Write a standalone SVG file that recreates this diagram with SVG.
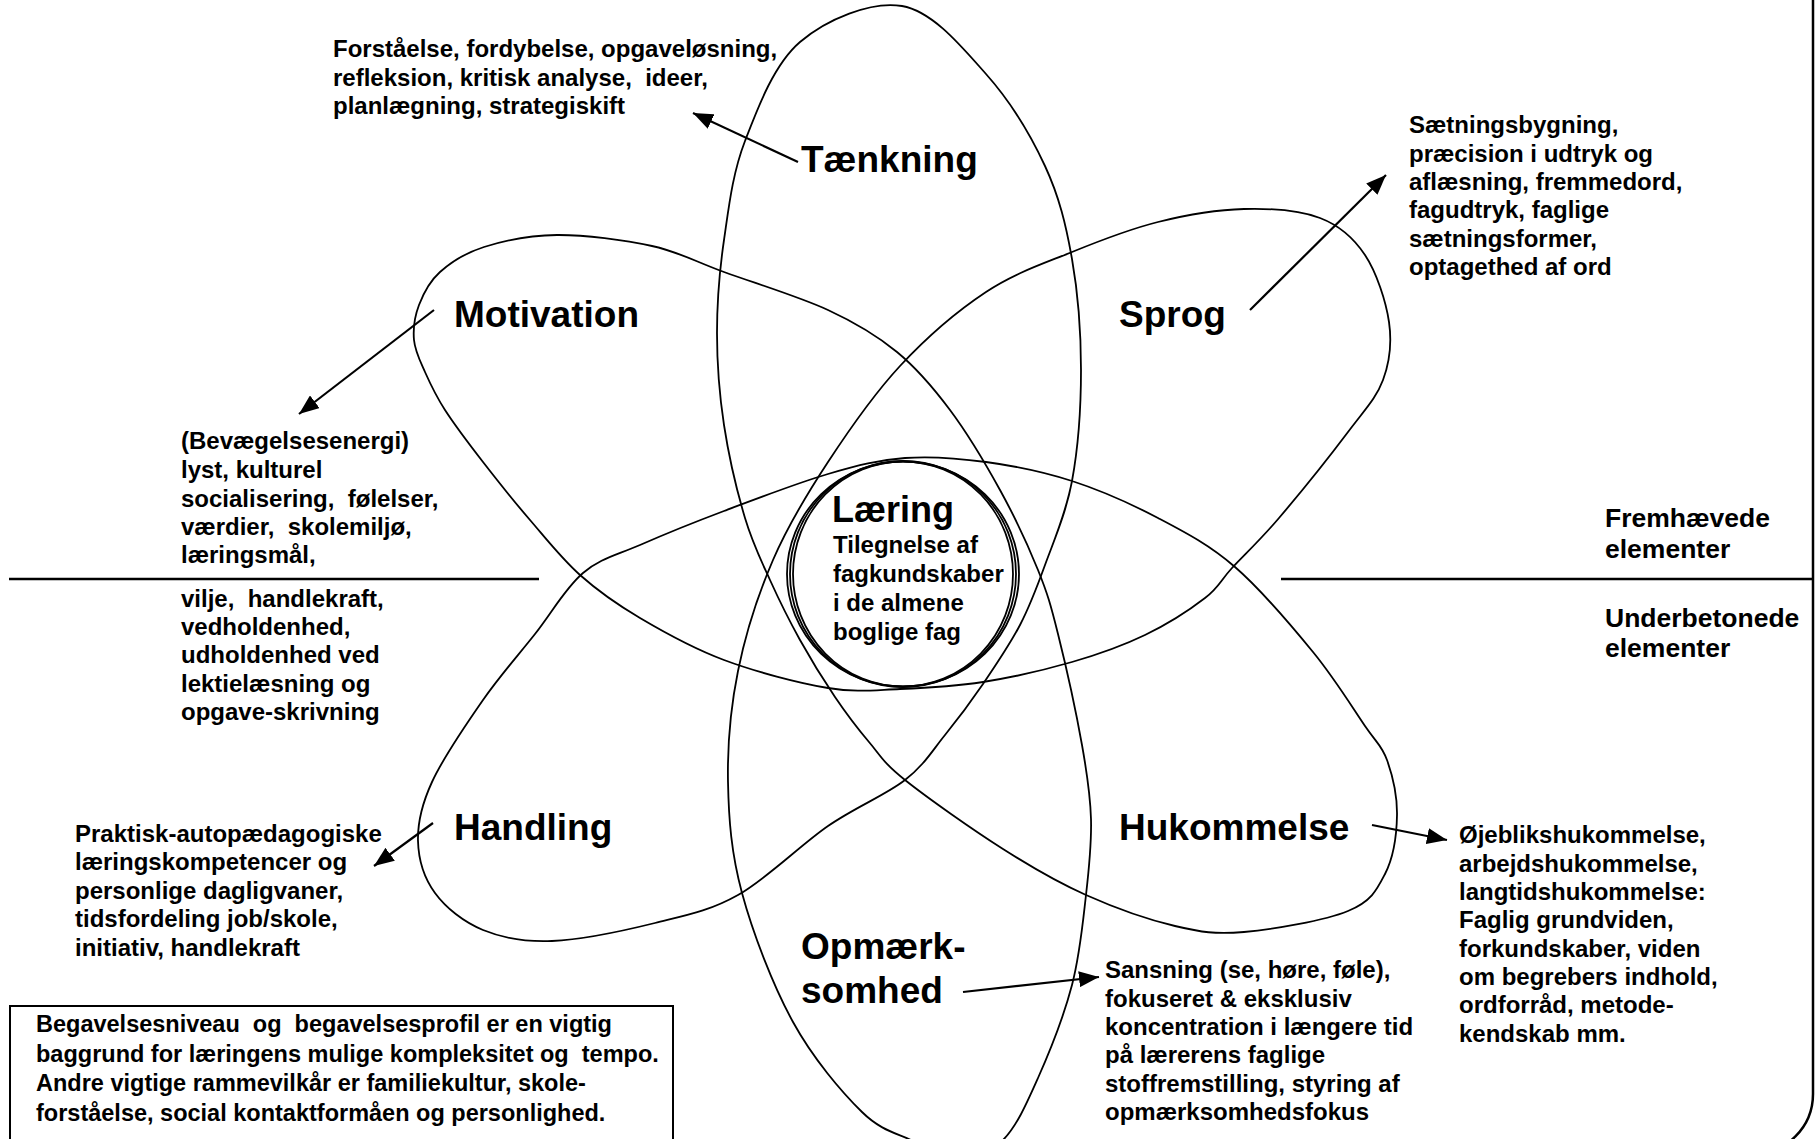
<svg xmlns="http://www.w3.org/2000/svg" width="1818" height="1139" viewBox="0 0 1818 1139">
<style>
text{font-family:"Liberation Sans",Arial,sans-serif;font-weight:bold;fill:#000;white-space:pre}
.lbl{font-size:37px}
.sm{font-size:24px}
.box{font-size:23.5px}
.leg{font-size:26.5px}
.petal{fill:none;stroke:#000;stroke-width:1.8}
.ring{fill:none;stroke:#000;stroke-width:1.8}
.rule{stroke:#000;stroke-width:2.5}
.arr{stroke:#000;stroke-width:2.2;fill:none;marker-end:url(#ah)}
</style>
<defs>
<marker id="ah" markerUnits="userSpaceOnUse" markerWidth="22" markerHeight="16" refX="20" refY="8" orient="auto">
<path d="M0,0 L20,8 L0,16 z" fill="#000"/>
</marker>
</defs>
<rect width="1818" height="1139" fill="#fff"/>
<rect x="-200" y="-200" width="2013" height="1354" rx="60" fill="none" stroke="#000" stroke-width="2.5"/>
<g id="petals">
<path class="petal" d="M 902 6 C 871 0.67 826.2 19.5 800 42 S 757.7 108 745 141 S 728.7 208 724 240 S 717 302.2 717 333 S 719.3 394.2 724 425 S 737.3 492.2 745 518 S 760.8 559.7 770 580 S 789.2 620.5 800 640 S 823.5 680 835 697 S 857.3 728.2 869 742 S 882.7 762.2 905 780 S 972.8 829.8 1003 849 S 1057.3 882.2 1086 895 S 1148.7 919.8 1175 926 S 1215.2 934.5 1244 932 S 1324.5 920.7 1348 911 S 1376.8 890 1385 874 S 1396.7 834 1397 815 S 1392.3 774.8 1387 760 S 1377.3 744 1365 726 S 1334.7 678.5 1313 652 S 1260.8 589.3 1235 567 S 1185.2 532.3 1158 518 S 1100.7 490.3 1072 481 S 1013.8 465.8 986 462 S 931.3 456 905 458 S 858.2 465.2 828 474 S 755.3 499.2 724 511 S 663.5 534.7 640 545 S 600.5 558.2 583 573 S 551.7 612.8 535 634 S 500.2 675.3 483 700 S 442.8 758.5 432 782 S 417.5 822.5 418 841 S 424.2 878.2 435 893 S 463.5 922 483 930 S 523.3 942.2 552 941 S 624 930.7 655 923 S 709.2 911.2 738 895 S 800.2 845.2 828 826 S 885.5 795.2 905 780 S 932 751 945 735 S 970.5 702.3 983 684 S 1009.7 644.8 1020 625 S 1036.3 589 1045 565 S 1066 513.5 1072 481 S 1081 407 1081 370 S 1078 293 1072 259 S 1059.3 196.8 1045 166 S 1009.8 100.7 986 74 S 933 11.33 902 6 Z"/>
<path class="petal" d="M 580 575 C 561.7 558.7 546.2 538.8 530 520 S 497.2 480.3 483 462 S 454.7 425 445 410 S 430.2 383.7 425 372 S 415 351.2 414 340 S 414.7 316.3 419 305 S 429.2 281.7 440 272 S 464.5 253.2 484 247 S 529 235.2 557 235 S 624.2 239.8 652 246 S 694.7 261.3 724 272 S 799.2 296.7 828 310 S 876.7 335.3 897 352 S 932.8 387 950 410 S 985.3 463.3 1000 490 S 1028.3 546 1038 570 S 1050.7 604.8 1058 634 S 1076.5 714.2 1082 745 S 1090.3 794 1091 819 S 1089.2 867.3 1086 895 S 1080 954.5 1072 985 S 1049.5 1052.2 1038 1078 S 1016.8 1126 1003 1140 S 969.7 1161.7 955 1162 S 930.5 1150.3 915 1142 S 882.3 1132 862 1112 S 813 1058.5 793 1022 S 752.8 933 742 893 S 728.7 819 728 782 S 730.5 708 738 671 S 758 594.8 773 560 S 806.8 494.3 828 462 S 873.7 394.3 900 366 S 957.3 311 986 292 S 1043.3 263.7 1072 252 S 1129.3 229.2 1158 222 S 1217 209.7 1244 209 S 1299.8 210.3 1320 218 S 1353.5 237.7 1365 255 S 1386 301.2 1389 322 S 1389.8 361.7 1383 380 S 1365.3 409 1348 432 S 1298.3 495.3 1279 518 S 1244.3 554.7 1232 568 S 1219.5 586.8 1205 598 S 1167.2 624.3 1145 635 S 1099 654.2 1072 662 S 1011.7 677.5 983 682 S 925.8 688 900 689 S 857.3 692.8 828 688 S 755.3 671.7 724 660 S 664 632.2 640 618 S 598.3 591.3 580 575 Z"/>
</g>
<g id="laering">
<ellipse class="ring" cx="903" cy="574" rx="116" ry="112.5"/>
<ellipse class="ring" cx="903" cy="574" rx="113" ry="113"/>
<ellipse class="ring" cx="903" cy="574" rx="110" ry="112.5"/>
<text x="832" y="522" style="font-size:36px">Læring</text>
<text class="sm"><tspan x="833" y="553">Tilegnelse af</tspan><tspan x="833" y="582">fagkundskaber</tspan><tspan x="833" y="611">i de almene</tspan><tspan x="833" y="640">boglige fag</tspan></text>
</g>
<g id="dividers">
<line class="rule" x1="9" y1="579" x2="539" y2="579"/>
<line class="rule" x1="1281" y1="579" x2="1813" y2="579"/>
</g>
<g id="node-taenkning">
<text class="lbl" x="801" y="172">Tænkning</text>
<text class="sm"><tspan x="333" y="57">Forståelse, fordybelse, opgaveløsning,</tspan><tspan x="333" y="86">refleksion, kritisk analyse,  ideer,</tspan><tspan x="333" y="114">planlægning, strategiskift</tspan></text>
</g>
<g id="node-sprog">
<text class="lbl" x="1119" y="327">Sprog</text>
<text class="sm"><tspan x="1409" y="133">Sætningsbygning,</tspan><tspan x="1409" y="162">præcision i udtryk og</tspan><tspan x="1409" y="190">aflæsning, fremmedord,</tspan><tspan x="1409" y="218">fagudtryk, faglige</tspan><tspan x="1409" y="247">sætningsformer,</tspan><tspan x="1409" y="275">optagethed af ord</tspan></text>
</g>
<g id="node-motivation">
<text class="lbl" x="454" y="327">Motivation</text>
<text class="sm"><tspan x="181" y="449">(Bevægelsesenergi)</tspan><tspan x="181" y="478">lyst, kulturel</tspan><tspan x="181" y="507">socialisering,  følelser,</tspan><tspan x="181" y="535">værdier,  skolemiljø,</tspan><tspan x="181" y="563">læringsmål,</tspan><tspan x="181" y="607">vilje,  handlekraft,</tspan><tspan x="181" y="635">vedholdenhed,</tspan><tspan x="181" y="663">udholdenhed ved</tspan><tspan x="181" y="692">lektielæsning og</tspan><tspan x="181" y="720">opgave-skrivning</tspan></text>
</g>
<g id="node-handling">
<text class="lbl" x="454" y="840">Handling</text>
<text class="sm"><tspan x="75" y="842">Praktisk-autopædagogiske</tspan><tspan x="75" y="870">læringskompetencer og</tspan><tspan x="75" y="899">personlige dagligvaner,</tspan><tspan x="75" y="927">tidsfordeling job/skole,</tspan><tspan x="75" y="956">initiativ, handlekraft</tspan></text>
</g>
<g id="node-hukommelse">
<text class="lbl" x="1119" y="840">Hukommelse</text>
<text class="sm"><tspan x="1459" y="843">Øjeblikshukommelse,</tspan><tspan x="1459" y="872">arbejdshukommelse,</tspan><tspan x="1459" y="900">langtidshukommelse:</tspan><tspan x="1459" y="928">Faglig grundviden,</tspan><tspan x="1459" y="957">forkundskaber, viden</tspan><tspan x="1459" y="985">om begrebers indhold,</tspan><tspan x="1459" y="1013">ordforråd, metode-</tspan><tspan x="1459" y="1042">kendskab mm.</tspan></text>
</g>
<g id="node-opmaerksomhed">
<text class="lbl"><tspan x="801" y="959">Opmærk-</tspan><tspan x="801" y="1003">somhed</tspan></text>
<text class="sm"><tspan x="1105" y="978">Sansning (se, høre, føle),</tspan><tspan x="1105" y="1007">fokuseret &amp; eksklusiv</tspan><tspan x="1105" y="1035">koncentration i længere tid</tspan><tspan x="1105" y="1063">på lærerens faglige</tspan><tspan x="1105" y="1092">stoffremstilling, styring af</tspan><tspan x="1105" y="1120">opmærksomhedsfokus</tspan></text>
</g>
<g id="legend">
<text class="leg"><tspan x="1605" y="527">Fremhævede</tspan><tspan x="1605" y="558">elementer</tspan></text>
<text class="leg"><tspan x="1605" y="627">Underbetonede</tspan><tspan x="1605" y="657">elementer</tspan></text>
</g>
<g id="node-begavelse">
<rect x="10" y="1006" width="663" height="150" fill="none" stroke="#000" stroke-width="2"/>
<text class="box"><tspan x="36" y="1032">Begavelsesniveau  og  begavelsesprofil er en vigtig</tspan><tspan x="36" y="1062">baggrund for læringens mulige kompleksitet og  tempo.</tspan><tspan x="36" y="1091">Andre vigtige rammevilkår er familiekultur, skole-</tspan><tspan x="36" y="1121">forståelse, social kontaktformåen og personlighed.</tspan></text>
</g>
<g id="connectors">
<line class="arr" x1="798" y1="162" x2="693" y2="113"/>
<line class="arr" x1="434" y1="310" x2="299" y2="414"/>
<line class="arr" x1="1250" y1="310" x2="1386" y2="175"/>
<line class="arr" x1="433" y1="823" x2="374" y2="866"/>
<line class="arr" x1="1372" y1="825" x2="1447" y2="840"/>
<line class="arr" x1="963" y1="992" x2="1099" y2="977"/>
</g>
</svg>
